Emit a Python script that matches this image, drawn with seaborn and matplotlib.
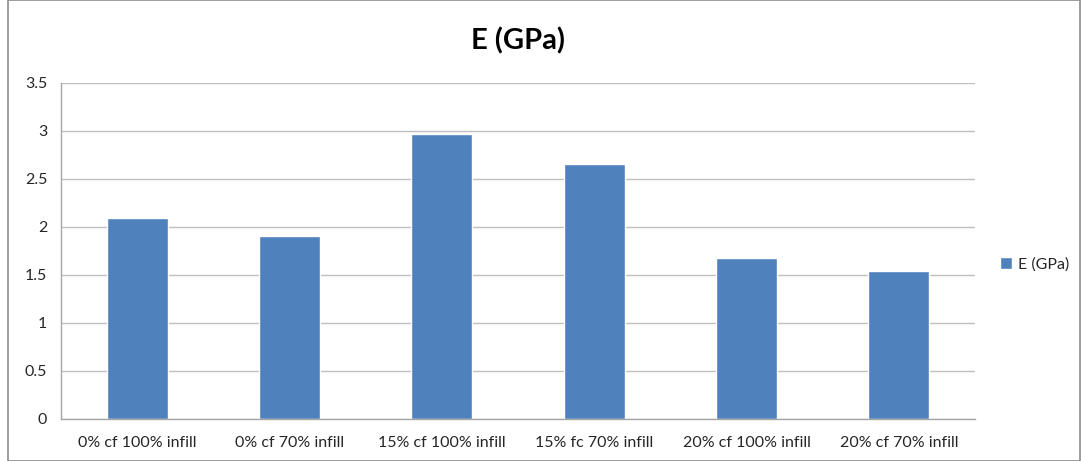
import matplotlib
matplotlib.use("Agg")
import matplotlib.pyplot as plt
import seaborn as sns
import pandas as pd
import numpy as np
from matplotlib.patches import Rectangle


categories = ["0% cf 100% infill", "0% cf 70% infill", "15% cf 100% infill",
              "15% fc 70% infill", "20% cf 100% infill", "20% cf 70% infill"]
values = [2.09, 1.91, 2.97, 2.66, 1.68, 1.54]
series_name = "E (GPa)"
y_ticks = [0, 0.5, 1, 1.5, 2, 2.5, 3, 3.5]
y_tick_labels = ["0", "0.5", "1", "1.5", "2", "2.5", "3", "3.5"]

df = pd.DataFrame({"category": categories, "value": values, "series": series_name})

sns.set_style("white")
plt.rcParams["font.family"] = ["Lato", "DejaVu Sans"]

BAR_COLOR = "#4f81bd"
GRID_COLOR = "#bfbfbf"
AXIS_COLOR = "#a6a6a6"

fig = plt.figure(figsize=(10.86, 4.61), dpi=100)
ax = fig.add_axes([61 / 1086, 1 - 419 / 461, (975 - 61) / 1086, (419 - 83) / 461])

sns.barplot(data=df, x="category", y="value", hue="series", palette=[BAR_COLOR],
            width=0.40, saturation=1, ax=ax, legend=True)

ax.set_xlim(-0.5, len(categories) - 0.5)
ax.set_ylim(0, 3.5)
ax.set_yticks(y_ticks)
ax.set_yticklabels(y_tick_labels)
ax.set_xlabel("")
ax.set_ylabel("")

ax.set_xticks(np.arange(len(categories)))
ax.set_xticklabels(categories)
ax.set_xticks(np.arange(len(categories) + 1) - 0.5, minor=True)
ax.tick_params(axis="x", which="major", length=0, pad=12, labelsize=11.5, colors="#262626")
ax.tick_params(axis="x", which="minor", length=5, width=1, color=AXIS_COLOR, direction="out")
ax.tick_params(axis="y", which="major", length=5, width=1, color=AXIS_COLOR, pad=5,
               labelsize=11.5, labelcolor="#262626", direction="out")

ax.grid(axis="y", color=GRID_COLOR, linewidth=1)
ax.set_axisbelow(True)
for side in ["top", "right"]:
    ax.spines[side].set_visible(False)
for side in ["left", "bottom"]:
    ax.spines[side].set_color(AXIS_COLOR)
    ax.spines[side].set_linewidth(1)

ax.set_title("E (GPa)", fontsize=21, fontweight="bold", pad=24, color="#000000")

leg = ax.legend(loc="center left", bbox_to_anchor=(1.012, 0.46), frameon=False,
                fontsize=11.5, handlelength=0.7, handleheight=0.7, handletextpad=0.4)

fig.patches.append(Rectangle((8 / 1086, 0), 1 - 14 / 1086, 1, transform=fig.transFigure,
                             fill=False, edgecolor="#8c8c8c", linewidth=1.2))

fig.savefig("out.png", dpi=100)
